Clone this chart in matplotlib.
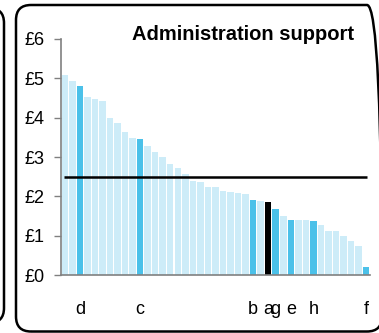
import matplotlib
matplotlib.use("Agg")
import matplotlib.pyplot as plt
from matplotlib.patches import FancyBboxPatch

plt.rcParams['font.family'] = ['Liberation Sans', 'DejaVu Sans']

# cost per unit, sorted high to low
values = [5.09, 4.94, 4.81, 4.53, 4.48, 4.43, 3.99, 3.87, 3.64, 3.49,
          3.46, 3.28, 3.13, 3.00, 2.82, 2.72, 2.57, 2.39, 2.37, 2.24,
          2.24, 2.14, 2.11, 2.09, 2.06, 1.91, 1.88, 1.86, 1.68, 1.50,
          1.40, 1.40, 1.40, 1.37, 1.27, 1.12, 1.12, 0.99, 0.87, 0.74,
          0.20]
labels = ['', '', 'd', '', '', '', '', '', '', '',
          'c', '', '', '', '', '', '', '', '', '',
          '', '', '', '', '', 'b', '', 'a', 'g', '',
          'e', '', '', 'h', '', '', '', '', '', '',
          'f']
selected = 'a'
average = 2.5
title = "Administration support"
yticks = [0, 1, 2, 3, 4, 5, 6]

LIGHT = '#cdecf8'
DARK = '#4bc1e9'

colors = []
for lab in labels:
    if lab == selected:
        colors.append('black')
    elif lab:
        colors.append(DARK)
    else:
        colors.append(LIGHT)

fig = plt.figure(figsize=(3.79, 3.33), dpi=100)
ax = fig.add_axes([0.161, 0.174, 0.815, 0.709])

x = range(len(values))
ax.bar(x, values, width=0.86, color=colors, linewidth=0)
ax.hlines(average, -0.1, len(values) - 0.9, color='black', lw=1.8, zorder=3)

ax.set_xlim(-0.5, len(values) - 0.5)
ax.set_ylim(0, 6)
ax.set_yticks(yticks)
ax.set_yticklabels([f"£{v}" for v in yticks], fontsize=13)
ax.set_xticks(list(x))
ax.set_xticklabels(labels, fontsize=13)
ax.tick_params(axis='x', length=0, pad=19)
ax.tick_params(axis='y', length=5, width=1, color='#808080', pad=7)

for s in ['top', 'right']:
    ax.spines[s].set_visible(False)
for s in ['left', 'bottom']:
    ax.spines[s].set_color('#808080')
    ax.spines[s].set_linewidth(1.2)

fig.text(0.641, 0.897, title, fontsize=14.5, fontweight='bold', ha='center', va='center')

# rounded panel frames
frame = FancyBboxPatch((0.16, 0.015), 3.66, 3.265, boxstyle="round,pad=0,rounding_size=0.15",
                       transform=fig.dpi_scale_trans, fill=False, lw=1.8, ec='black')
fig.add_artist(frame)
left = FancyBboxPatch((-1.0, 0.10), 1.04, 3.15, boxstyle="round,pad=0,rounding_size=0.15",
                      transform=fig.dpi_scale_trans, fill=False, lw=1.8, ec='black')
fig.add_artist(left)

fig.savefig("out.png", dpi=100)
